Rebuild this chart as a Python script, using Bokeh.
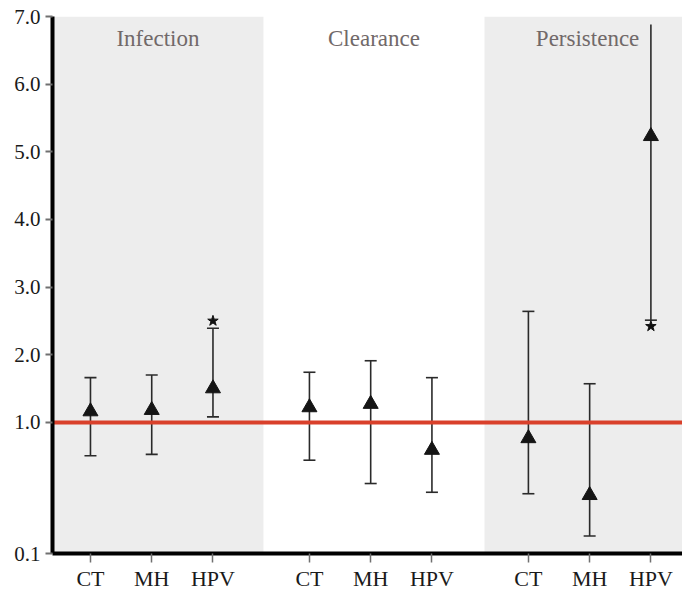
import numpy as np
from bokeh.plotting import figure
from bokeh.models import Range1d, FixedTicker, BoxAnnotation
from bokeh.core.properties import value
from bokeh.embed import file_html
from bokeh.resources import INLINE

# ---------------- data ----------------
GROUPS = ["Infection", "Clearance", "Persistence"]
CATEGORIES = ["CT", "MH", "HPV"]

# point estimates, lower and upper limits, per group (CT, MH, HPV)
EST_INFECTION = [1.16, 1.18, 1.50]
LOW_INFECTION = [0.77, 0.78, 1.08]
HIGH_INFECTION = [1.66, 1.70, 2.39]

EST_CLEARANCE = [1.22, 1.27, 0.81]
LOW_CLEARANCE = [0.74, 0.58, 0.52]
HIGH_CLEARANCE = [1.74, 1.91, 1.66]

EST_PERSISTENCE = [0.89, 0.50, 5.23]
LOW_PERSISTENCE = [0.51, 0.22, 2.51]
HIGH_PERSISTENCE = [2.64, 1.57, 6.88]

# whether the upper limit has a cap (the last one runs off the scale)
HIGH_CAP_INFECTION = [True, True, True]
HIGH_CAP_CLEARANCE = [True, True, True]
HIGH_CAP_PERSISTENCE = [True, True, False]

# significance stars
STAR_GROUP = ["Infection", "Persistence"]
STAR_CATEGORY = ["HPV", "HPV"]
STAR_VALUE = [2.50, 2.42]

REFERENCE_VALUE = 1.0

Y_TICKS = [0.1, 1.0, 2.0, 3.0, 4.0, 5.0, 6.0, 7.0]
Y_TICK_LABELS = ["0.1", "1.0", "2.0", "3.0", "4.0", "5.0", "6.0", "7.0"]

# ---------------- layout of the broken value axis ----------------
# the segment 0.1 -> 1.0 occupies 1.94 units, above 1.0 one unit per 1.0
Y_AXIS_POS = [1.0 - 1.94, 1.0, 2.0, 3.0, 4.0, 5.0, 6.0, 7.0]


def ypos(v):
    return np.interp(np.asarray(v, dtype=float), Y_TICKS, Y_AXIS_POS)


GROUP_STEP = 3.575
X_START, X_END = -0.62, 9.666
PANEL_EDGES = [-0.62, 2.824, 6.433, 9.8]


def xpos(group, cat):
    return GROUPS.index(group) * GROUP_STEP + CATEGORIES.index(cat)


est = EST_INFECTION + EST_CLEARANCE + EST_PERSISTENCE
low = LOW_INFECTION + LOW_CLEARANCE + LOW_PERSISTENCE
high = HIGH_INFECTION + HIGH_CLEARANCE + HIGH_PERSISTENCE
hcap = HIGH_CAP_INFECTION + HIGH_CAP_CLEARANCE + HIGH_CAP_PERSISTENCE
xs = [xpos(g, c) for g in GROUPS for c in CATEGORIES]
labels = [c for g in GROUPS for c in CATEGORIES]

SERIF = "Liberation Serif"

p = figure(
    width=682, height=593,
    x_range=Range1d(X_START, X_END),
    y_range=Range1d(Y_AXIS_POS[0], Y_AXIS_POS[-1]),
    output_backend="svg", toolbar_location=None,
    min_border_left=52, min_border_right=0,
    min_border_top=16, min_border_bottom=39,
)
p.outline_line_color = None
p.background_fill_color = "white"
p.border_fill_color = "white"
p.xgrid.visible = False
p.ygrid.visible = False

# shaded panels
p.add_layout(BoxAnnotation(right=PANEL_EDGES[1], fill_color="#ededed",
                           fill_alpha=1.0, line_alpha=0, level="underlay"))
p.add_layout(BoxAnnotation(left=PANEL_EDGES[2], fill_color="#ededed",
                           fill_alpha=1.0, line_alpha=0, level="underlay"))

# panel titles
title_x = [(PANEL_EDGES[i] + PANEL_EDGES[i + 1]) / 2 for i in range(3)]
p.text(x=title_x, y=[6.68] * 3, text=GROUPS,
       text_font=value(SERIF), text_font_size="23px",
       text_color="#716969", text_align="center",
       text_baseline="alphabetic")

# whiskers
p.segment(x0=xs, y0=ypos(low), x1=xs, y1=ypos(high),
          line_color="#2a2a2a", line_width=1.6)
p.scatter(x=xs, y=ypos(low), marker="dash", size=12,
          line_color="#2a2a2a", line_width=1.6)
xc = [x for x, c in zip(xs, hcap) if c]
hc = [h for h, c in zip(high, hcap) if c]
p.scatter(x=xc, y=ypos(hc), marker="dash", size=12,
          line_color="#2a2a2a", line_width=1.6)

# reference line at 1.0
p.hspan(y=[float(ypos(REFERENCE_VALUE))], line_color="#d9402b", line_width=4)

# estimates
p.scatter(x=xs, y=ypos(est), marker="triangle", size=15,
          fill_color="#151515", line_color="#151515")

# stars
sx = [xpos(g, c) for g, c in zip(STAR_GROUP, STAR_CATEGORY)]
p.scatter(x=sx, y=ypos(STAR_VALUE), marker="star", size=11,
          fill_color="#111111", line_color="#111111")

# y axis
ytick_pos = [round(float(v), 6) for v in ypos(Y_TICKS)]
p.yaxis.ticker = FixedTicker(ticks=ytick_pos)
p.yaxis.major_label_overrides = {t: l for t, l in zip(ytick_pos, Y_TICK_LABELS)}
p.yaxis.minor_tick_line_color = None
p.yaxis.axis_line_color = "black"
p.yaxis.axis_line_width = 4
p.yaxis.major_tick_line_color = "#707070"
p.yaxis.major_tick_line_width = 2
p.yaxis.major_tick_in = 0
p.yaxis.major_tick_out = 7
p.yaxis.major_label_standoff = 5
p.yaxis.major_label_text_font = SERIF
p.yaxis.major_label_text_font_size = "21px"
p.yaxis.major_label_text_color = "#1a1a1a"

# x axis
xtick_pos = [round(float(x), 6) for x in xs]
p.xaxis.ticker = FixedTicker(ticks=xtick_pos)
p.xaxis.major_label_overrides = {t: l for t, l in zip(xtick_pos, labels)}
p.xaxis.minor_tick_line_color = None
p.xaxis.axis_line_color = "black"
p.xaxis.axis_line_width = 4
p.xaxis.major_tick_line_color = "#707070"
p.xaxis.major_tick_line_width = 1.5
p.xaxis.major_tick_in = 0
p.xaxis.major_tick_out = 9
p.xaxis.major_label_standoff = 3
p.xaxis.major_label_text_font = SERIF
p.xaxis.major_label_text_font_size = "22px"
p.xaxis.major_label_text_color = "#1a1a1a"

open("out.html", "w").write(file_html(p, INLINE))
